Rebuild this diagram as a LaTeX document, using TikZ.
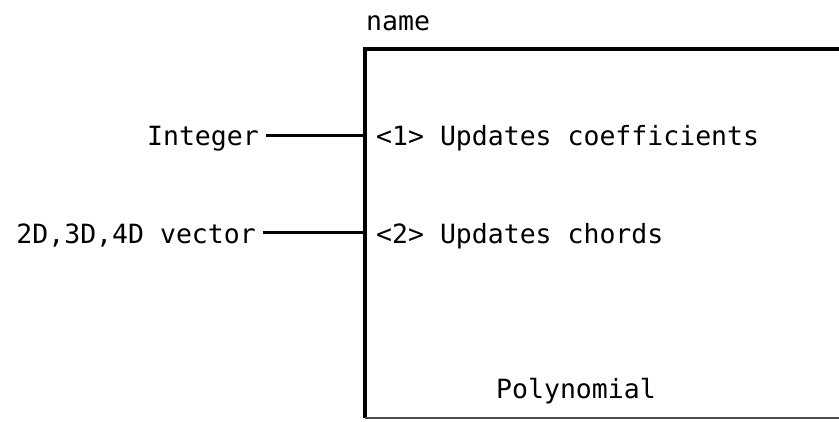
\documentclass[tikz,border=0pt]{standalone}
\usepackage{fontspec}
\setmonofont{DejaVu Sans Mono}
\begin{document}
\begin{tikzpicture}[x=1pt,y=1pt,
  lbl/.style={font=\ttfamily\fontsize{26.5}{32}\selectfont, inner sep=0pt, text=black},
  edge/.style={line width=3.2pt, line cap=butt},
  conn/.style={line width=3pt}]
\useasboundingbox (0,0) rectangle (839,-421);
\clip (0,0) rectangle (839,-421);
% box corners
\coordinate (tl) at (365,-49);
\coordinate (bl) at (365,-418);
\coordinate (tr) at (850,-49);
\coordinate (br) at (850,-418);
\draw[edge] (tr) -- (tl) -- (bl);
\draw[line width=2.4pt, black!70] (bl) -- (br);
% texts
\node[lbl, anchor=base west] (name) at (366,-30) {name};
\node[lbl, anchor=base east] (int) at (259,-145) {Integer};
\node[lbl, anchor=base west] (m1) at (376,-145) {<1> Updates coefficients};
\node[lbl, anchor=base east] (vec) at (256,-243) {2D,3D,4D vector};
\node[lbl, anchor=base west] (m2) at (376,-243) {<2> Updates chords};
\node[lbl, anchor=base west] (poly) at (496,-398) {Polynomial};
% connectors
\coordinate (p1) at (365,-135);
\coordinate (p2) at (365,-232);
\draw[conn] (int.east |- p1) ++(7,0) -- (p1);
\draw[conn] (vec.east |- p2) ++(7,0) -- (p2);
\end{tikzpicture}
\end{document}
